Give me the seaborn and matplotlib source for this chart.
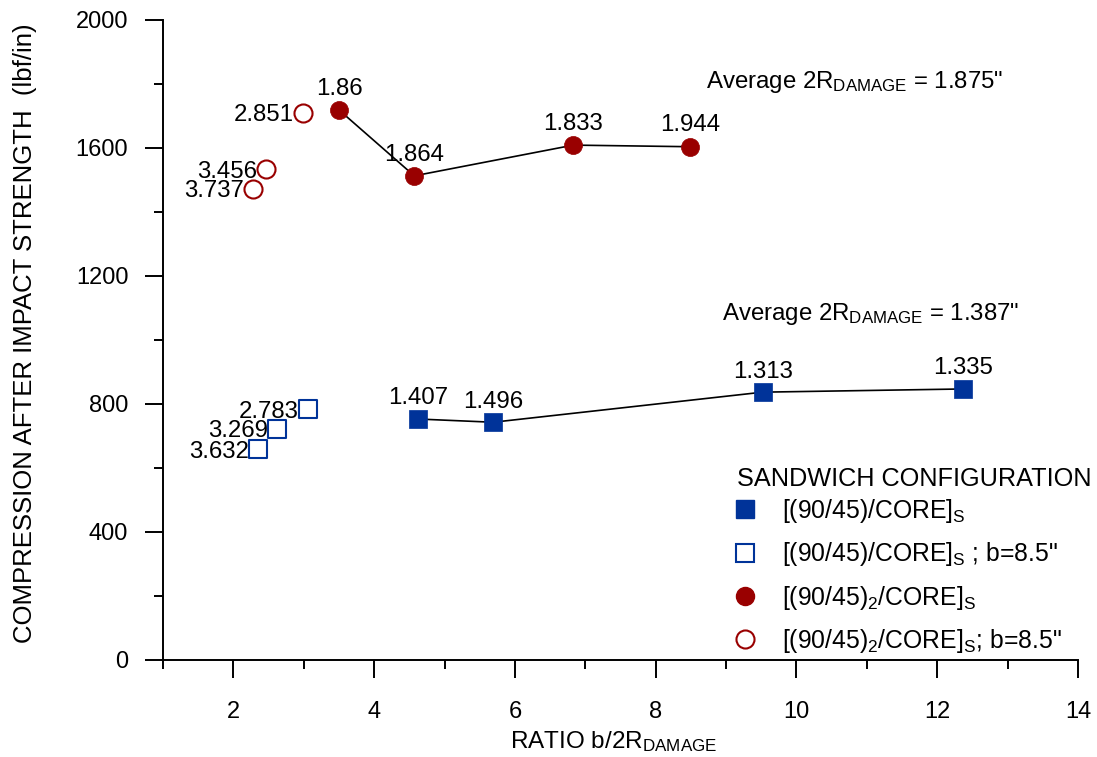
import matplotlib
matplotlib.use("Agg")
import matplotlib.pyplot as plt
from matplotlib.lines import Line2D
import seaborn as sns
import pandas as pd

# ---------------- data ----------------
# [(90/45)/CORE]s  (filled blue squares)
blue_filled_x = [4.63, 5.69, 9.52, 12.37]
blue_filled_y = [753, 743, 837, 847]
blue_filled_lab = ["1.407", "1.496", "1.313", "1.335"]
# [(90/45)/CORE]s ; b=8.5"  (open blue squares)
blue_open_x = [3.06, 2.62, 2.35]
blue_open_y = [784, 722, 659]
blue_open_lab = ["2.783", "3.269", "3.632"]
# [(90/45)2/CORE]s  (filled red circles)
red_filled_x = [3.50, 4.57, 6.83, 8.49]
red_filled_y = [1719, 1513, 1609, 1604]
red_filled_lab = ["1.86", "1.864", "1.833", "1.944"]
# [(90/45)2/CORE]s ; b=8.5"  (open red circles)
red_open_x = [2.99, 2.47, 2.28]
red_open_y = [1710, 1534, 1473]
red_open_lab = ["2.851", "3.456", "3.737"]

x_ticks = [2, 4, 6, 8, 10, 12, 14]
y_ticks = [0, 400, 800, 1200, 1600, 2000]

legend_title = "SANDWICH CONFIGURATION"
legend_labels = [
    r'[(90/45)/CORE]$_\mathrm{S}$',
    r'[(90/45)/CORE]$_\mathrm{S}$ ; b=8.5"',
    r'[(90/45)$_\mathrm{2}$/CORE]$_\mathrm{S}$',
    r'[(90/45)$_\mathrm{2}$/CORE]$_\mathrm{S}$; b=8.5"',
]
avg_texts = [r'Average 2R$_\mathrm{DAMAGE}$ = 1.875"',
             r'Average 2R$_\mathrm{DAMAGE}$ = 1.387"']

BLUE = "#003399"
RED = "#990000"

# ---------------- style ----------------
sns.set_style("ticks")
plt.rcParams["font.family"] = ["Liberation Sans", "DejaVu Sans"]
plt.rcParams["mathtext.fontset"] = "custom"
plt.rcParams["mathtext.rm"] = "Liberation Sans"
plt.rcParams["mathtext.it"] = "Liberation Sans:italic"
plt.rcParams["mathtext.bf"] = "Liberation Sans:bold"
for k in ["text.color", "axes.labelcolor", "xtick.color", "ytick.color",
          "axes.edgecolor", "xtick.labelcolor", "ytick.labelcolor"]:
    plt.rcParams[k] = "black"

FS = 17.3
TFS = 17
LFS = 17.8

fig = plt.figure(figsize=(10.97, 7.57), dpi=100)
ax = fig.add_axes([163 / 1097, 1 - 660 / 757, 915 / 1097, 640 / 757])

df_bf = pd.DataFrame({"x": blue_filled_x, "y": blue_filled_y})
df_bo = pd.DataFrame({"x": blue_open_x, "y": blue_open_y})
df_rf = pd.DataFrame({"x": red_filled_x, "y": red_filled_y})
df_ro = pd.DataFrame({"x": red_open_x, "y": red_open_y})

# connecting lines
sns.lineplot(data=df_bf, x="x", y="y", color="black", lw=1.2, ax=ax,
             sort=False, zorder=2)
sns.lineplot(data=df_rf, x="x", y="y", color="black", lw=1.2, ax=ax,
             sort=False, zorder=2)

MS = 13 ** 2
sns.scatterplot(data=df_bf, x="x", y="y", marker="s", s=MS, color=BLUE,
                edgecolor=BLUE, linewidth=0.5, ax=ax, zorder=3)
sns.scatterplot(data=df_bo, x="x", y="y", marker="s", s=MS * 0.9, facecolor="white",
                edgecolor=BLUE, linewidth=1.5, ax=ax, zorder=3)
sns.scatterplot(data=df_rf, x="x", y="y", marker="o", s=MS, color=RED,
                edgecolor=RED, linewidth=0.5, ax=ax, zorder=3)
sns.scatterplot(data=df_ro, x="x", y="y", marker="o", s=MS, facecolor="white",
                edgecolor=RED, linewidth=1.5, ax=ax, zorder=3)

# value labels
for xs, ys, labs, dy in [(blue_filled_x, blue_filled_y, blue_filled_lab, 10.5),
                         (red_filled_x, red_filled_y, red_filled_lab, 11)]:
    for x, y, t in zip(xs, ys, labs):
        ax.annotate(t, (x, y), xytext=(0, dy), textcoords="offset points",
                    ha="center", va="baseline", fontsize=FS, zorder=4)
for xs, ys, labs in [(blue_open_x, blue_open_y, blue_open_lab),
                     (red_open_x, red_open_y, red_open_lab)]:
    for x, y, t in zip(xs, ys, labs):
        ax.annotate(t, (x, y), xytext=(-6.5, 0), textcoords="offset points",
                    ha="right", va="center_baseline", fontsize=FS, zorder=4)

ax.text(0.5934, 0.8938, avg_texts[0],
        transform=ax.transAxes, ha="left", va="baseline", fontsize=FS)
ax.text(0.611, 0.531, avg_texts[1],
        transform=ax.transAxes, ha="left", va="baseline", fontsize=FS)

# axes
ax.set_xlim(1, 14)
ax.set_ylim(0, 2000)
ax.set_xticks(x_ticks)
ax.set_xticks([1, 3, 5, 7, 9, 11, 13], minor=True)
ax.set_yticks(y_ticks)
ax.set_yticks([200, 600, 1000, 1400, 1800], minor=True)
ax.set_xticklabels([str(v) for v in x_ticks])
ax.set_yticklabels([str(v) for v in y_ticks])
sns.despine(ax=ax)
for s in ["left", "bottom"]:
    ax.spines[s].set_linewidth(1.4)
    ax.spines[s].set_color("black")
ax.tick_params(axis="both", which="major", direction="out", length=13,
               width=1.4, color="black", labelsize=TFS, labelcolor="black")
ax.tick_params(axis="both", which="minor", direction="out", length=6.5,
               width=1.4, color="black")
ax.tick_params(axis="x", which="major", pad=16.5)
ax.tick_params(axis="y", which="major", pad=12)

ax.set_xlabel(r"RATIO b/2R$_\mathrm{DAMAGE}$", fontsize=17.5, color="black")
ax.set_ylabel("COMPRESSION AFTER IMPACT STRENGTH  (lbf/in)", fontsize=18.5,
              color="black")
ax.xaxis.set_label_coords(0.492, -0.108)
ax.yaxis.set_label_coords(-0.1376, 0.51)

# legend
fig.text(737 / 1097, 1 - 486 / 757, legend_title, ha="left", va="baseline",
         fontsize=18.2)
handles = [
    Line2D([], [], linestyle="none", marker="s", markersize=13,
           markerfacecolor=BLUE, markeredgecolor=BLUE),
    Line2D([], [], linestyle="none", marker="s", markersize=12.3,
           markerfacecolor="white", markeredgecolor=BLUE, markeredgewidth=1.5),
    Line2D([], [], linestyle="none", marker="o", markersize=13,
           markerfacecolor=RED, markeredgecolor=RED),
    Line2D([], [], linestyle="none", marker="o", markersize=13,
           markerfacecolor="white", markeredgecolor=RED, markeredgewidth=1.5),
]
leg = ax.legend(handles, legend_labels,
                loc="upper left", bbox_to_anchor=(734 / 1097, 1 - 497 / 757),
                bbox_transform=fig.transFigure, frameon=False, fontsize=LFS,
                borderpad=0, handlelength=0.9, handletextpad=1.05,
                labelspacing=0.62, borderaxespad=0)

fig.savefig("out.png", dpi=100)
